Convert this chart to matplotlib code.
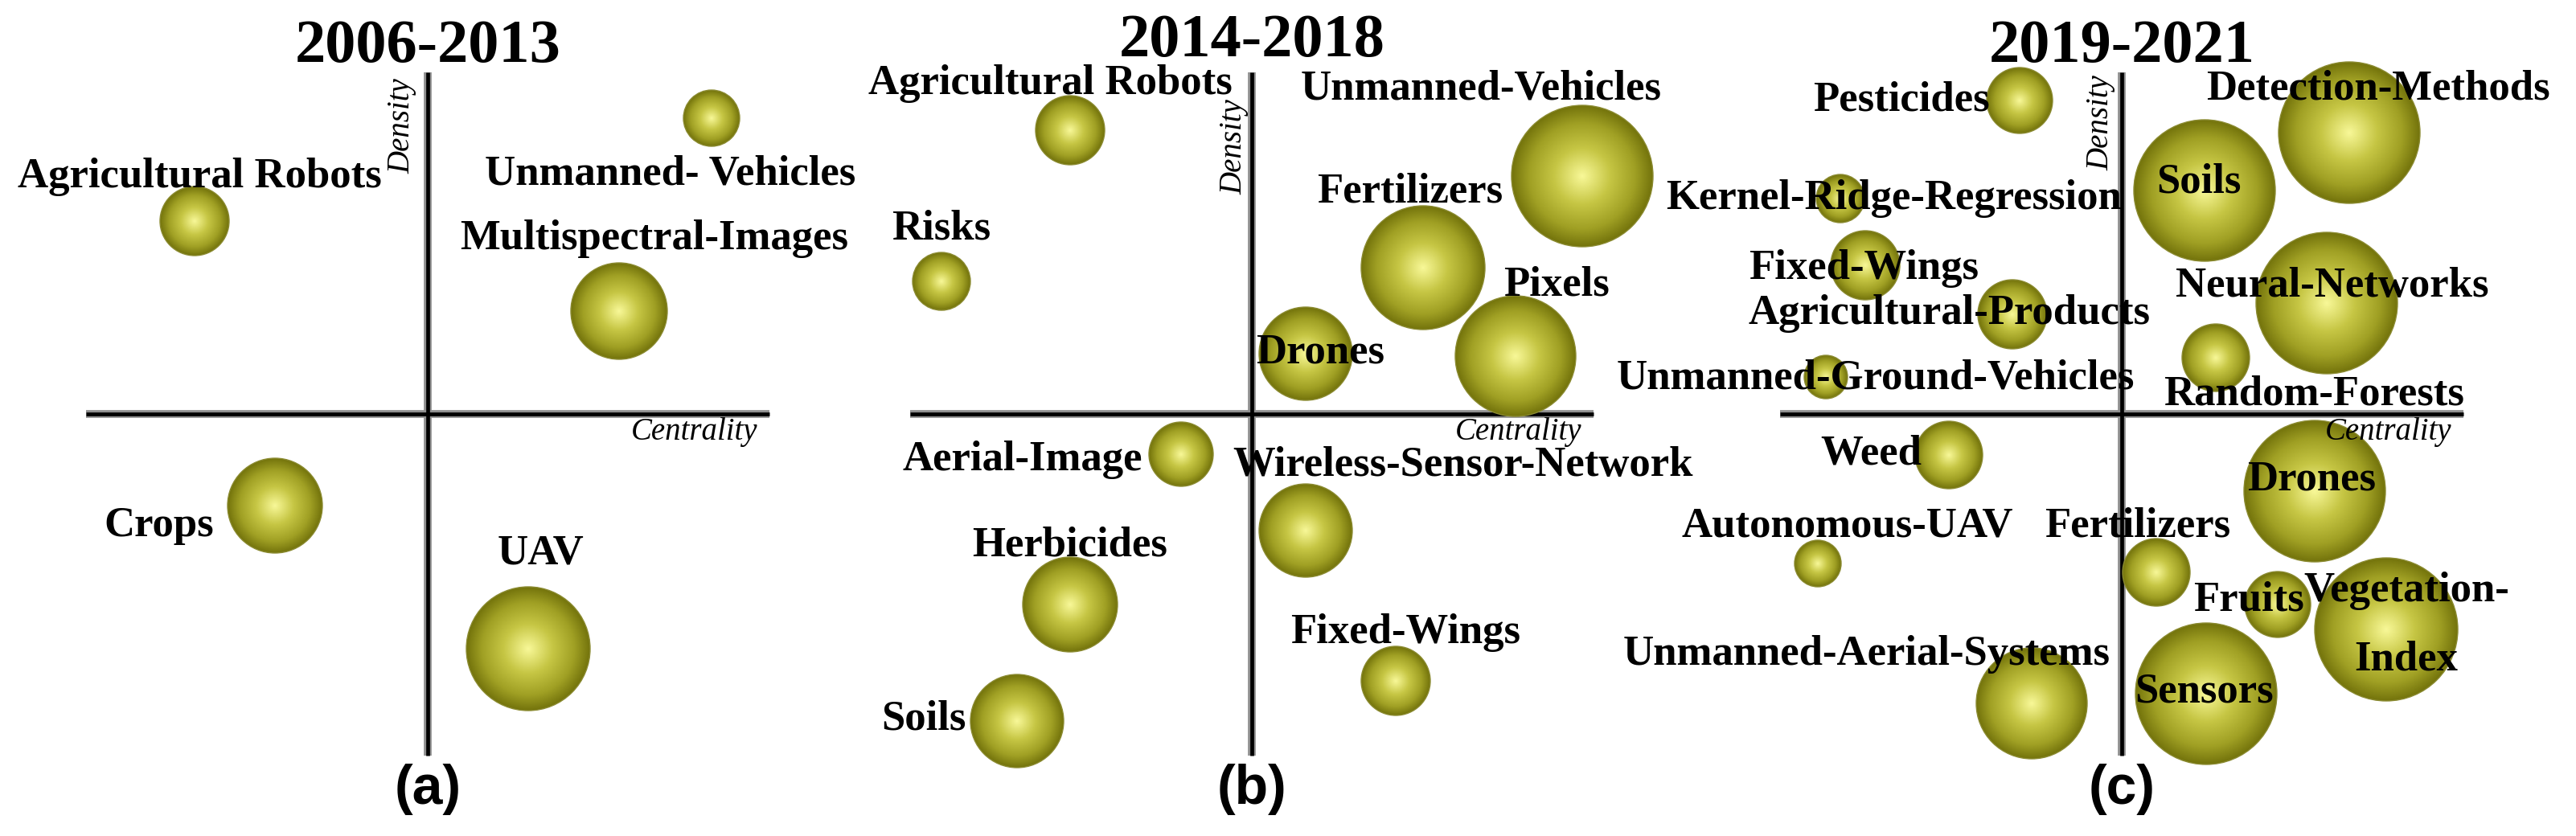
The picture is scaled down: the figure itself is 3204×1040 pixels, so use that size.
import numpy as np
import matplotlib.pyplot as plt
from matplotlib.colors import LinearSegmentedColormap
from matplotlib.patches import Circle

W, H = 3205, 1040
AX_LEN = 425  # half length of the quadrant axes

# ---- (a) 2006-2013 ----
a_names = ['Unmanned- Vehicles', 'Agricultural Robots', 'Multispectral-Images', 'Crops', 'UAV']
a_cent = [353, -290, 238, -190, 125]
a_dens = [368, 240, 128, -114, -292]
a_size = [35, 43, 60, 59, 77]
a_lab_x = [302, -284, 282, -334, 141]
a_lab_y = [285, 282, 205, -152, -186]

# ---- (b) 2014-2018 ----
b_names = ['Agricultural Robots', 'Risks', 'Unmanned-Vehicles', 'Fertilizers', 'Pixels',
           'Drones', 'Aerial-Image', 'Wireless-Sensor-Network', 'Herbicides', 'Soils',
           'Fixed-Wings']
b_cent = [-226, -386, 411, 213, 328, 67, -88, 67, -226, -292, 179]
b_dens = [353, 165, 296, 182, 72, 75, -50, -145, -237, -382, -332]
b_size = [43, 36, 88, 77, 75, 58, 40, 58, 59, 58, 43]
b_lab_x = [-251, -386, 285, 197, 379, 85, -285, 263, -226, -408, 191]
b_lab_y = [398, 218, 392, 263, 147, 64, -70, -77, -176, -393, -285]

# ---- (c) 2019-2021 ----
c_names = ['Pesticides', 'Detection-Methods', 'Soils', 'Kernel-Ridge-Regression', 'Fixed-Wings',
           'Agricultural-Products', 'Neural-Networks', 'Random-Forests',
           'Unmanned-Ground-Vehicles', 'Weed', 'Drones', 'Autonomous-UAV', 'Fertilizers',
           'Fruits', 'Vegetation-\nIndex', 'Unmanned-Aerial-Systems', 'Sensors']
c_cent = [-127, 283, 103, -350, -319, -136, 255, 117, -368, -215, 240, -378, 43, 194, 329, -112, 105]
c_dens = [390, 350, 278, 268, 185, 124, 138, 70, 46, -51, -96, -186, -197, -237, -268, -360, -348]
c_size = [41, 88, 88, 30, 43, 43, 88, 42, 27, 42, 88, 29, 42, 41, 89, 69, 88]
c_lab_x = [-274, 319, 96, -283, -321, -214, 262, 239, -306, -312, 236, -341, 20, 158, 354, -317, 103]
c_lab_y = [377, 392, 275, 255, 168, 112, 146, 12, 32, -62, -95, -152, -152, -245, -318, -312, -358]

bubble_cmap = LinearSegmentedColormap.from_list(
    'bubble', [(0.0, '#f8f898'), (0.4, '#c6c644'), (0.75, '#a0a024'), (1.0, '#74740c')])

g = np.linspace(-1, 1, 201)
gx, gy = np.meshgrid(g, g)
dist = np.clip(np.sqrt(gx ** 2 + gy ** 2), 0, 1)

SERIF = 'Liberation Serif'
SANS = 'Liberation Sans'

fig = plt.figure(figsize=(W / 100, H / 100), dpi=100)
fig.patch.set_facecolor('white')


def draw_panel(cx, cy, title, title_y, letter, names, cent, dens, size, lab_x, lab_y, dens_pos):
    ax = fig.add_axes([0, 0, 1, 1])
    ax.set_autoscale_on(False)
    ax.set_xlim(-cx, W - cx)
    ax.set_ylim(cy - H, cy)
    ax.axis('off')

    # quadrant axes: grey halo with black core
    for lw, col in [(7.0, '#8f8f8f'), (3.4, 'black')]:
        ax.plot([-AX_LEN, AX_LEN], [0, 0], color=col, lw=lw, solid_capstyle='butt', zorder=1)
        ax.plot([0, 0], [-AX_LEN, AX_LEN], color=col, lw=lw, solid_capstyle='butt', zorder=1)

    # shaded bubbles
    for x, y, r in zip(cent, dens, size):
        im = ax.imshow(dist, cmap=bubble_cmap, vmin=0, vmax=1, origin='lower',
                       extent=(x - r, x + r, y - r, y + r), interpolation='bilinear',
                       aspect='auto', zorder=3)
        circ = Circle((x, y), r, facecolor='none', edgecolor='#8a8a30', lw=1.0, zorder=3.5)
        ax.add_patch(circ)
        im.set_clip_path(circ)

    for name, lx, ly in zip(names, lab_x, lab_y):
        ax.text(lx, ly, name, ha='center', va='baseline', fontsize=38, fontweight='bold',
                family=SERIF, linespacing=2.0, zorder=5)

    ax.text(0, title_y, title, ha='center', va='baseline', fontsize=55, fontweight='bold',
            family=SERIF, zorder=5)
    ax.text(0, -467, letter, ha='center', va='center', fontsize=49, fontweight='bold',
            family=SANS, zorder=5)
    ax.text(dens_pos[0], dens_pos[1], 'Density', rotation=90, ha='right', va='top',
            fontsize=28, style='italic', family=SERIF, zorder=5)
    ax.text(410, -32, 'Centrality', ha='right', va='baseline', fontsize=28,
            style='italic', family=SERIF, zorder=5)


draw_panel(532, 515, '2006-2013', 438, '(a)', a_names, a_cent, a_dens, a_size,
           a_lab_x, a_lab_y, (-14, 418))
draw_panel(1557, 515, '2014-2018', 445, '(b)', b_names, b_cent, b_dens, b_size,
           b_lab_x, b_lab_y, (-4, 392))
draw_panel(2639, 515, '2019-2021', 438, '(c)', c_names, c_cent, c_dens, c_size,
           c_lab_x, c_lab_y, (-8, 422))

fig.savefig('out.png', dpi=100, facecolor='white')
